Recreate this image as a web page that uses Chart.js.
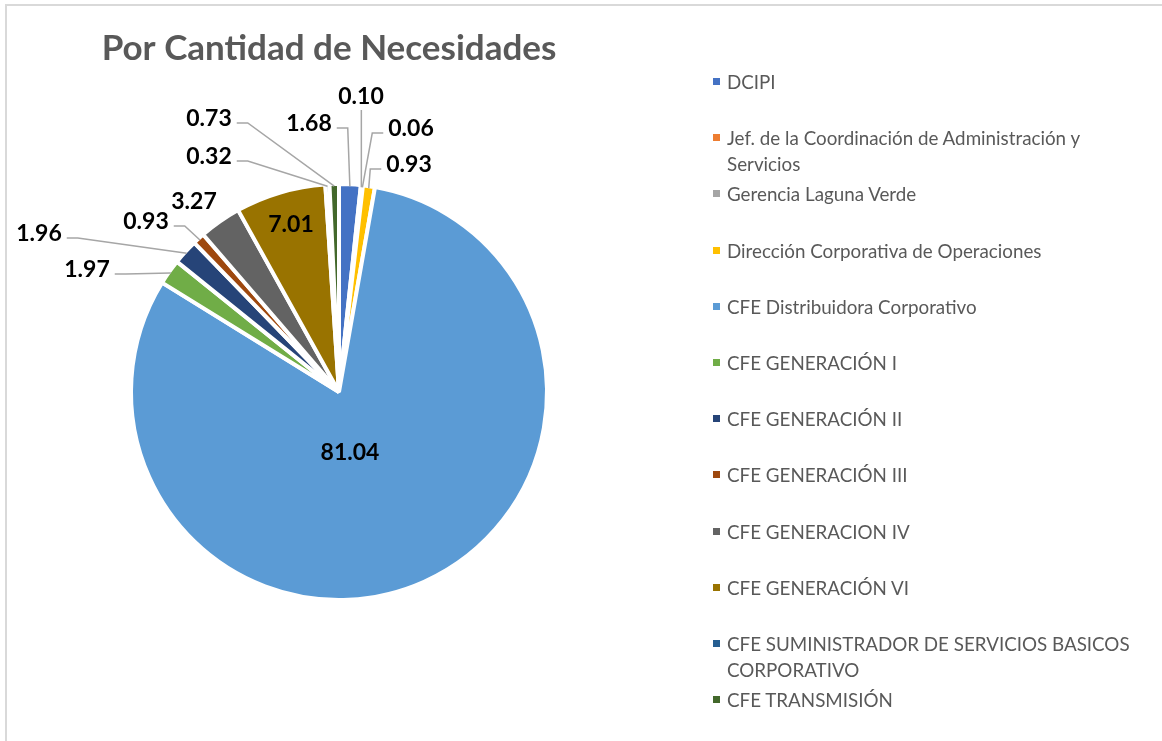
<!DOCTYPE html>
<html>
<head>
<meta charset="utf-8">
<script src="https://cdn.jsdelivr.net/npm/chart.js@4.4.1/dist/chart.umd.min.js"></script>
<style>
  html, body { margin: 0; padding: 0; background: #fff; }
  #marco { position: absolute; left: 0; top: 0; width: 1162px; height: 741px; overflow: hidden; }
  #borde { position: absolute; left: 5px; top: 4px; width: 1162px; height: 741px;
           border-left: 2px solid #d9d9d9; border-top: 2px solid #d9d9d9; }
  #grafico { position: absolute; left: 0; top: 0; }
  #leyenda { position: absolute; left: 713px; top: 0; font-family: Lato, sans-serif;
             font-size: 18.8px; color: #595959; }
  .item { position: absolute; left: 0; white-space: nowrap; line-height: 26px; }
  .marca { position: absolute; left: 0; top: 9px; width: 7px; height: 7px; }
  .texto { position: absolute; left: 14px; top: 0; }
</style>
</head>
<body>
<div id="marco">
  <div id="borde"></div>
  <canvas id="grafico" width="1162" height="741"></canvas>
  <div id="leyenda"></div>
</div>
<script>
// Datos del gráfico
const titulo = 'Por Cantidad de Necesidades';
const categorias = [
  'DCIPI',
  ['Jef. de la Coordinación de Administración y', 'Servicios'],
  'Gerencia Laguna Verde',
  'Dirección Corporativa de Operaciones',
  'CFE Distribuidora Corporativo',
  'CFE GENERACIÓN I',
  'CFE GENERACIÓN II',
  'CFE GENERACIÓN III',
  'CFE GENERACION IV',
  'CFE GENERACIÓN VI',
  ['CFE SUMINISTRADOR DE SERVICIOS BASICOS', 'CORPORATIVO'],
  'CFE TRANSMISIÓN'
];
const valores = [1.68, 0.10, 0.06, 0.93, 81.04, 1.97, 1.96, 0.93, 3.27, 7.01, 0.32, 0.73];
const colores = ['#4472c4', '#ed7d31', '#a5a5a5', '#ffc000', '#5b9bd5', '#70ad47',
                 '#264478', '#9e480e', '#636363', '#997300', '#255e91', '#43682b'];

// Ubicación de cada etiqueta respecto al centro del pastel, y si lleva línea guía
const ubicacion = [
  { dx: -30,  dy: -268, linea: true },
  { dx: 22,   dy: -295, linea: true },
  { dx: 72,   dy: -263, linea: true },
  { dx: 70,   dy: -227, linea: true },
  { dx: 11,   dy: 61,   linea: false },
  { dx: -252, dy: -122, linea: true },
  { dx: -300, dy: -158, linea: true },
  { dx: -193, dy: -170, linea: true },
  { dx: -145, dy: -190, linea: false },
  { dx: -48,  dy: -167, linea: false },
  { dx: -130, dy: -235, linea: true },
  { dx: -130, dy: -273, linea: true }
];

const etiquetasPlugin = {
  id: 'etiquetas',
  afterDatasetsDraw(chart) {
    const ctx = chart.ctx;
    const arcos = chart.getDatasetMeta(0).data;
    ctx.save();
    ctx.font = 'bold 23px Lato';
    ctx.textAlign = 'center';
    ctx.textBaseline = 'middle';
    arcos.forEach((arco, i) => {
      const { x, y, startAngle, endAngle, outerRadius } =
        arco.getProps(['x', 'y', 'startAngle', 'endAngle', 'outerRadius'], true);
      const medio = (startAngle + endAngle) / 2;
      const ax = x + Math.cos(medio) * (outerRadius - 2);
      const ay = y + Math.sin(medio) * (outerRadius - 2);
      const pos = ubicacion[i];
      const lx = x + pos.dx;
      const ly = y + pos.dy;
      const texto = valores[i].toFixed(2);
      const ancho = ctx.measureText(texto).width;
      if (pos.linea) {
        ctx.beginPath();
        ctx.strokeStyle = '#a6a6a6';
        ctx.lineWidth = 1.5;
        if (Math.abs(ax - lx) < ancho / 2) {
          ctx.moveTo(ax, ly + 13);
          ctx.lineTo(ax, ay);
        } else {
          const lado = ax > lx ? 1 : -1;
          const x0 = lx + lado * (ancho / 2 + 5);
          const y0 = ly + 4;
          ctx.moveTo(x0, y0);
          ctx.lineTo(x0 + lado * 11, y0);
          ctx.lineTo(ax, ay);
        }
        ctx.stroke();
      }
      ctx.fillStyle = '#000';
      ctx.fillText(texto, lx, ly);
    });
    // título
    ctx.font = 'bold 35px Lato';
    ctx.fillStyle = '#595959';
    ctx.fillText(titulo, 329, 49);
    ctx.restore();
  }
};

new Chart(document.getElementById('grafico'), {
  type: 'pie',
  data: {
    labels: categorias,
    datasets: [{
      data: valores,
      backgroundColor: colores,
      borderColor: '#ffffff',
      borderWidth: 4,
      radius: 208
    }]
  },
  options: {
    responsive: false,
    animation: false,
    layout: { padding: { left: 119, right: 603, top: 172, bottom: 129 } },
    plugins: {
      legend: { display: false },
      tooltip: { enabled: false }
    }
  },
  plugins: [etiquetasPlugin]
});

// Leyenda a la derecha
const leyenda = document.getElementById('leyenda');
categorias.forEach((cat, i) => {
  const item = document.createElement('div');
  item.className = 'item';
  item.style.top = (82 + i * 56.2 - 13) + 'px';
  const marca = document.createElement('div');
  marca.className = 'marca';
  marca.style.background = colores[i];
  const texto = document.createElement('div');
  texto.className = 'texto';
  texto.innerHTML = [].concat(cat).join('<br>');
  item.appendChild(marca);
  item.appendChild(texto);
  leyenda.appendChild(item);
});
</script>
</body>
</html>
